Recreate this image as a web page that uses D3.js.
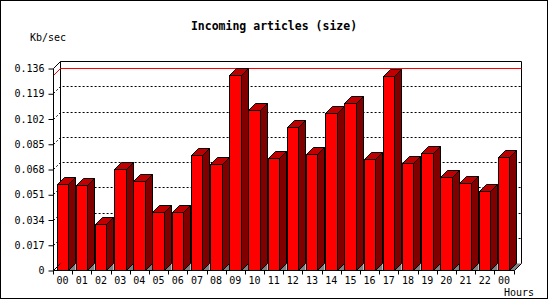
<!DOCTYPE html>
<html><head><meta charset="utf-8">
<script src="https://cdn.jsdelivr.net/npm/d3@7"></script>
<style>
html,body{margin:0;padding:0;background:#fff;}
svg{display:block;}
text{font-family:"DejaVu Sans Mono",monospace;fill:#000;}
</style></head>
<body>
<script>
const categories = ["00","01","02","03","04","05","06","07","08","09","10","11","12","13","14","15","16","17","18","19","20","21","22","00"];
const values = [0.0580,0.0572,0.0308,0.0680,0.0599,0.0391,0.0391,0.0773,0.0714,0.1316,0.1078,0.0754,0.0963,0.0781,0.1058,0.1125,0.0747,0.1307,0.0720,0.0788,0.0626,0.0585,0.0531,0.0761];
const yTicks = [0,0.017,0.034,0.051,0.068,0.085,0.102,0.119,0.136];
const yTickLabels = ["0","0.017","0.034","0.051","0.068","0.085","0.102","0.119","0.136"];
const title = "Incoming articles (size)";
const yUnit = "Kb/sec";
const xUnit = "Hours";

(function(){
const W = 550, H = 300, D = 7;
const svg = d3.select("body").append("svg").attr("width", W).attr("height", H);

const x = d3.scaleBand().domain(d3.range(categories.length)).range([53, 513.5]).padding(0);
const y = d3.scaleLinear().domain([0, 0.136]).range([270, 68]);
const step = x.step();
const pLeft = 53, pRight = 513.5, pBottom = y(0), pTop = y(0.136);

// frame
svg.append("rect").attr("x",0.5).attr("y",0.5).attr("width",547).attr("height",298)
  .attr("fill","none").attr("stroke","#000");

// title
svg.append("text").attr("x",274).attr("y",30).attr("text-anchor","middle")
  .attr("font-weight","bold").attr("font-size","11.5px").text(title);
svg.append("text").attr("x",30).attr("y",40.5).attr("font-size","10px").text(yUnit);
svg.append("text").attr("x",504).attr("y",295.5).attr("font-size","10px").text(xUnit);

const g = svg.append("g");
const P = v => Math.round(v) + 0.5;

// back panel
const bl = P(pLeft + D), br = P(pRight + D), bt = P(pTop - D), bb = P(pBottom - D);
g.append("path").attr("d", `M${bl},${bb}V${bt}H${br}V${bb}`).attr("fill","none").attr("stroke","#000");

// grid lines (dotted)
yTicks.slice(1, -1).forEach(v => {
  const yf = P(y(v)), yb = P(y(v) - D);
  g.append("path").attr("d", `M${P(pLeft)},${yf}L${bl},${yb}H${br}`)
    .attr("fill","none").attr("stroke","#000").attr("stroke-dasharray","2,2");
});
// max line
const vmax = d3.max(values);
g.append("path").attr("d", `M${P(pLeft)},${P(y(vmax))}L${bl},${P(y(vmax)-D)}H${br}`)
  .attr("fill","none").attr("stroke","#f00");

// bars
values.forEach((v, i) => {
  const x0 = P(x(i) + 3.5), x1 = P(x(i) + 15), yt = P(y(v)), yb0 = P(pBottom);
  const gg = g.append("g");
  const last = i === values.length - 1;
  if (last) {
    gg.append("path").attr("d", `M${x1},${yb0}L${x1+D},${yb0-D}L${br},${yb0-D}L${P(pRight)},${yb0}Z`).attr("fill","#808080");
  } else {
    gg.append("path").attr("d", `M${x1},${yb0}L${x1+D},${yb0-D}V${yb0}Z`).attr("fill","#808080");
  }
  gg.append("rect").attr("x",x0).attr("y",yt).attr("width",x1-x0).attr("height",yb0-yt)
    .attr("fill","#ff0000").attr("stroke","#000");
  gg.append("path").attr("d", `M${x1},${yt}L${x1+D},${yt-D}V${yb0-D}L${x1},${yb0}Z`)
    .attr("fill","#800000").attr("stroke","#000");
  gg.append("path").attr("d", `M${x0},${yt}L${x0+D},${yt-D}H${x1+D}L${x1},${yt}Z`)
    .attr("fill","#c00000").attr("stroke","#000");
});

// front axis / floor
g.append("path").attr("d", `M${P(pLeft)},${P(pBottom)}V${P(pTop)}L${bl},${bt}`).attr("fill","none").attr("stroke","#000");
g.append("path").attr("d", `M${P(pLeft)},${P(pBottom)}L${bl},${bb}`).attr("fill","none").attr("stroke","#000");
g.append("path").attr("d", `M${P(pLeft)},${P(pBottom)}H${P(pRight)}L${br},${bb}`).attr("fill","none").attr("stroke","#000");

// y axis labels/ticks
const yAxis = d3.axisLeft(y).tickValues(yTicks).tickFormat((d,i)=>yTickLabels[i]).tickSize(5).tickSizeOuter(0).tickPadding(4);
const ya = svg.append("g").attr("transform",`translate(${P(pLeft)},0.5)`).call(yAxis);
ya.select(".domain").remove();
ya.selectAll("text").attr("font-family","'DejaVu Sans Mono',monospace").attr("font-size","10px").attr("fill","#000");
ya.selectAll("line").attr("stroke","#000");

// x axis boundary ticks
const xb = d3.range(categories.length + 1).map(i => i < categories.length ? x(i) : pRight);
svg.append("g").selectAll("line").data(xb).join("line")
  .attr("x1", d => P(d)).attr("x2", d => P(d)).attr("y1", P(pBottom)).attr("y2", P(pBottom)+4).attr("stroke","#000");
svg.append("g").selectAll("text").data(categories).join("text")
  .attr("x",(d,i)=>x(i)+step/2).attr("y",284).attr("text-anchor","middle").attr("font-size","10px").text(d=>d);
})();
</script>
</body></html>
